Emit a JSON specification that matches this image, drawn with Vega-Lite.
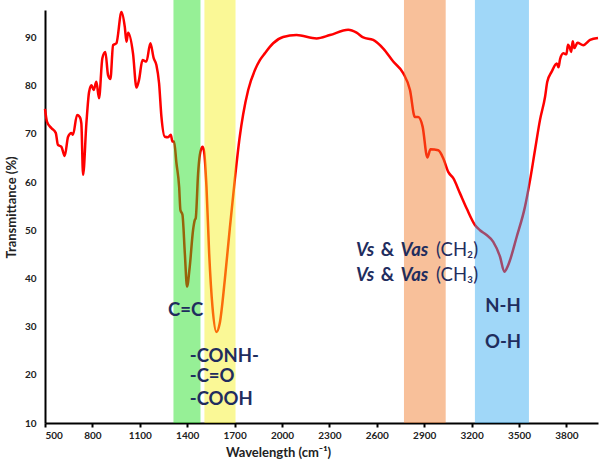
{
  "$schema": "https://vega.github.io/schema/vega-lite/v6.json",
  "width": 553,
  "height": 413,
  "autosize": {"type": "none"},
  "padding": {"left": 45, "top": 10, "right": 2, "bottom": 41},
  "background": "white",
  "config": {"view": {"stroke": null}, "font": "Lato"},
  "datasets": {
    "spectrum": [
      {"wn": 500, "t": 75.2}, {"wn": 513, "t": 72.5}, {"wn": 540, "t": 71.2}, {"wn": 568, "t": 70.2},
      {"wn": 582, "t": 67.7}, {"wn": 604, "t": 67.3}, {"wn": 625, "t": 65.4}, {"wn": 646, "t": 69.4},
      {"wn": 667, "t": 70.2}, {"wn": 677, "t": 69.8}, {"wn": 703, "t": 73.9}, {"wn": 720, "t": 73.5},
      {"wn": 730, "t": 72.2}, {"wn": 741, "t": 61.5}, {"wn": 762, "t": 72.2}, {"wn": 779, "t": 78.7},
      {"wn": 794, "t": 80.1}, {"wn": 808, "t": 79.1}, {"wn": 825, "t": 80.8}, {"wn": 842, "t": 77.4},
      {"wn": 863, "t": 85.7}, {"wn": 882, "t": 87.0}, {"wn": 899, "t": 82.2}, {"wn": 914, "t": 81.4},
      {"wn": 931, "t": 88.4}, {"wn": 952, "t": 88.8}, {"wn": 984, "t": 95.3}, {"wn": 1005, "t": 92.2},
      {"wn": 1016, "t": 89.1}, {"wn": 1026, "t": 91.0}, {"wn": 1057, "t": 86.7}, {"wn": 1079, "t": 79.6},
      {"wn": 1095, "t": 81.2}, {"wn": 1117, "t": 85.3}, {"wn": 1142, "t": 85.0}, {"wn": 1167, "t": 88.8},
      {"wn": 1188, "t": 85.7}, {"wn": 1205, "t": 84.3}, {"wn": 1222, "t": 80.5}, {"wn": 1237, "t": 73.5},
      {"wn": 1258, "t": 69.4}, {"wn": 1279, "t": 69.3}, {"wn": 1296, "t": 69.8}, {"wn": 1307, "t": 68.4},
      {"wn": 1317, "t": 68.4}, {"wn": 1332, "t": 63.9}, {"wn": 1349, "t": 59.0}, {"wn": 1357, "t": 54.2},
      {"wn": 1370, "t": 53.2}, {"wn": 1385, "t": 45.2}, {"wn": 1399, "t": 38.3}, {"wn": 1416, "t": 42.4},
      {"wn": 1437, "t": 50.0}, {"wn": 1448, "t": 52.1}, {"wn": 1454, "t": 52.5}, {"wn": 1469, "t": 61.8},
      {"wn": 1480, "t": 65.6}, {"wn": 1497, "t": 67.3}, {"wn": 1507, "t": 66.3}, {"wn": 1522, "t": 59.0},
      {"wn": 1539, "t": 45.2}, {"wn": 1560, "t": 34.1}, {"wn": 1585, "t": 28.9}, {"wn": 1606, "t": 30.7},
      {"wn": 1638, "t": 39.7}, {"wn": 1670, "t": 50.5}, {"wn": 1701, "t": 60.4}, {"wn": 1733, "t": 69.5},
      {"wn": 1754, "t": 74.0}, {"wn": 1786, "t": 79.1}, {"wn": 1828, "t": 83.2}, {"wn": 1860, "t": 85.3},
      {"wn": 1891, "t": 86.7}, {"wn": 1944, "t": 88.8}, {"wn": 2007, "t": 90.1}, {"wn": 2092, "t": 90.5},
      {"wn": 2219, "t": 89.8}, {"wn": 2303, "t": 90.5}, {"wn": 2419, "t": 91.6}, {"wn": 2472, "t": 91.0},
      {"wn": 2514, "t": 90.0}, {"wn": 2577, "t": 89.5}, {"wn": 2641, "t": 87.7}, {"wn": 2704, "t": 85.0},
      {"wn": 2767, "t": 82.6}, {"wn": 2810, "t": 79.1}, {"wn": 2841, "t": 73.5}, {"wn": 2862, "t": 73.5},
      {"wn": 2890, "t": 71.5}, {"wn": 2920, "t": 65.1}, {"wn": 2940, "t": 66.8}, {"wn": 2989, "t": 66.6},
      {"wn": 3021, "t": 64.9}, {"wn": 3052, "t": 62.1}, {"wn": 3084, "t": 60.8}, {"wn": 3126, "t": 57.7},
      {"wn": 3169, "t": 54.5}, {"wn": 3221, "t": 51.1}, {"wn": 3253, "t": 50.0}, {"wn": 3295, "t": 49.0},
      {"wn": 3337, "t": 47.6}, {"wn": 3380, "t": 44.5}, {"wn": 3407, "t": 41.4}, {"wn": 3432, "t": 42.8},
      {"wn": 3486, "t": 48.7}, {"wn": 3538, "t": 54.9}, {"wn": 3570, "t": 60.4}, {"wn": 3601, "t": 66.6},
      {"wn": 3633, "t": 72.9}, {"wn": 3665, "t": 77.7}, {"wn": 3679, "t": 80.8}, {"wn": 3707, "t": 82.9},
      {"wn": 3739, "t": 84.6}, {"wn": 3750, "t": 83.8}, {"wn": 3760, "t": 85.5}, {"wn": 3781, "t": 86.7},
      {"wn": 3800, "t": 86.5}, {"wn": 3810, "t": 88.5}, {"wn": 3823, "t": 87.7}, {"wn": 3830, "t": 87.0},
      {"wn": 3840, "t": 89.2}, {"wn": 3850, "t": 87.8}, {"wn": 3870, "t": 88.9}, {"wn": 3907, "t": 88.4},
      {"wn": 3950, "t": 89.5}, {"wn": 4000, "t": 89.9}
    ],
    "bands": [
      {"band": "green", "x1": 1313, "x2": 1484},
      {"band": "yellow", "x1": 1509, "x2": 1706},
      {"band": "orange", "x1": 2772, "x2": 3036},
      {"band": "blue", "x1": 3221, "x2": 3563}
    ],
    "boldCenter": [
      {"label": "C=C", "x": 1390, "y": 33.5},
      {"label": "N-H", "x": 3399, "y": 34.3},
      {"label": "O-H", "x": 3399, "y": 26.8}
    ],
    "boldLeft": [
      {"label": "-CONH-", "x": 1416, "y": 23.9},
      {"label": "-C=O", "x": 1416, "y": 19.7},
      {"label": "-COOH", "x": 1416, "y": 15.0},
      {"label": "&", "x": 2625, "y": 45.8},
      {"label": "&", "x": 2625, "y": 40.7}
    ],
    "italicLeft": [
      {"label": "Vs", "x": 2468, "y": 45.8},
      {"label": "Vas", "x": 2750, "y": 45.8},
      {"label": "Vs", "x": 2468, "y": 40.7},
      {"label": "Vas", "x": 2750, "y": 40.7}
    ],
    "plainLeft": [
      {"label": "(CH₂)", "x": 2975, "y": 45.8},
      {"label": "(CH₃)", "x": 2975, "y": 40.7}
    ]
  },
  "layer": [
    {
      "data": {"name": "spectrum"},
      "mark": {"type": "line", "color": "#ff0000", "strokeWidth": 2.5, "interpolate": "monotone"},
      "encoding": {
        "x": {
          "field": "wn", "type": "quantitative",
          "scale": {"domain": [500, 4000], "nice": false, "zero": false},
          "axis": {
            "title": "Wavelength (cm⁻¹)",
            "format": "d",
            "values": [500, 800, 1100, 1400, 1700, 2000, 2300, 2600, 2900, 3200, 3500, 3800],
            "grid": false,
            "domainColor": "black", "domainWidth": 2,
            "tickColor": "black", "tickWidth": 2, "tickSize": 4,
            "labelFontWeight": "bold", "labelFontSize": 10, "labelColor": "#222", "labelPadding": 3,
            "titleFontWeight": "bold", "titleFontSize": 13, "titleColor": "#222",
            "titleX": 233, "titleY": 23, "titleBaseline": "top"
          }
        },
        "y": {
          "field": "t", "type": "quantitative",
          "scale": {"domain": [10, 95.7], "nice": false, "zero": false},
          "axis": {
            "title": "Transmittance (%)",
            "values": [10, 20, 30, 40, 50, 60, 70, 80, 90],
            "grid": false, "ticks": false,
            "domainColor": "black", "domainWidth": 2,
            "labelFontWeight": "bold", "labelFontSize": 10, "labelColor": "#222", "labelPadding": 9,
            "titleFontWeight": "bold", "titleFontSize": 13, "titleColor": "#222",
            "titleX": -30, "titleY": 197, "titleBaseline": "alphabetic"
          }
        }
      }
    },
    {
      "data": {"name": "bands"},
      "mark": {"type": "rect", "opacity": 0.45},
      "encoding": {
        "x": {"field": "x1", "type": "quantitative"},
        "x2": {"field": "x2"},
        "y": {"datum": 10},
        "y2": {"datum": 97.8},
        "color": {
          "field": "band", "type": "nominal", "legend": null,
          "scale": {"domain": ["green", "yellow", "orange", "blue"], "range": ["#16de16", "#f4f016", "#f0741f", "#2ca7f0"]}
        }
      }
    },
    {
      "data": {"name": "boldCenter"},
      "mark": {"type": "text", "font": "Lato", "fontSize": 18.5, "fontWeight": "bold", "color": "#1f2d5e", "align": "center", "baseline": "middle"},
      "encoding": {
        "x": {"field": "x", "type": "quantitative"},
        "y": {"field": "y", "type": "quantitative"},
        "text": {"field": "label"}
      }
    },
    {
      "data": {"name": "boldLeft"},
      "mark": {"type": "text", "font": "Lato", "fontSize": 18.5, "fontWeight": "bold", "color": "#1f2d5e", "align": "left", "baseline": "middle"},
      "encoding": {
        "x": {"field": "x", "type": "quantitative"},
        "y": {"field": "y", "type": "quantitative"},
        "text": {"field": "label"}
      }
    },
    {
      "data": {"name": "italicLeft"},
      "mark": {"type": "text", "font": "Lato", "fontSize": 18.5, "fontWeight": "bold", "fontStyle": "italic", "color": "#1f2d5e", "align": "left", "baseline": "middle"},
      "encoding": {
        "x": {"field": "x", "type": "quantitative"},
        "y": {"field": "y", "type": "quantitative"},
        "text": {"field": "label"}
      }
    },
    {
      "data": {"name": "plainLeft"},
      "mark": {"type": "text", "font": "Lato", "fontSize": 18.5, "fontWeight": "normal", "color": "#1f2d5e", "align": "left", "baseline": "middle"},
      "encoding": {
        "x": {"field": "x", "type": "quantitative"},
        "y": {"field": "y", "type": "quantitative"},
        "text": {"field": "label"}
      }
    }
  ]
}
